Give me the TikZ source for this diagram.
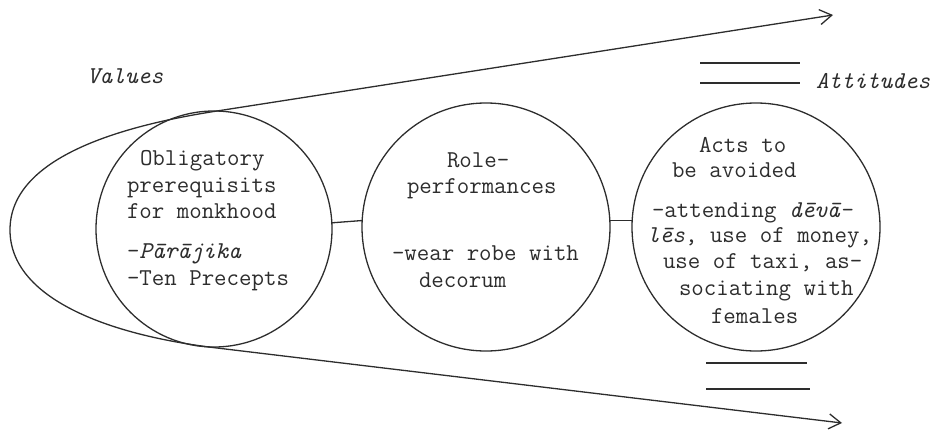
\documentclass[tikz,border=0pt]{standalone}
\usetikzlibrary{arrows.meta}
\definecolor{ink}{RGB}{45,45,45}
\begin{document}
\begin{tikzpicture}[x=1pt,y=-1pt,
  line width=1.3pt, draw=ink,
  circ/.style={circle, draw=ink, line width=1.3pt, inner sep=0pt, outer sep=0pt},
  txt/.style={anchor=base west, inner sep=0pt, outer sep=0pt, text=ink,
     font=\fontsize{24.2pt}{26pt}\selectfont\ttfamily},
  itl/.style={txt, font=\fontsize{24.2pt}{26pt}\selectfont\ttfamily\itshape}]
\useasboundingbox (0,0) rectangle (948,431);

% outer shape with arrows
\coordinate (tt) at (833,15);
\coordinate (tb) at (217,111);
\coordinate (ap) at (10,230);
\coordinate (bb) at (217,348);
\coordinate (bt) at (842,423);
\draw[ink, {Straight Barb[length=12pt,width=15pt]}-{Straight Barb[length=12pt,width=15pt]}]
  (tt) -- (tb) .. controls (107,128) and (10,162) .. (ap)
  .. controls (10,298) and (107,335) .. (bb) -- (bt);

% circles
\node[circ, minimum size=236pt] (c1) at (214,229) {};
\node[circ, minimum size=248pt] (c2) at (486,227) {};
\node[circ, minimum size=248pt] (c3) at (756,227) {};

\draw[ink] (c1.3) -- (c2.177);
\draw[ink] (c2.3) -- (c3.177);

% double lines near Attitudes
\draw[ink] (700,63) -- (800,63);
\draw[ink] (700,83) -- (800,83);
\draw[ink] (706,363) -- (807,363);
\draw[ink] (706,389) -- (810,389);

% labels
\node[itl] (val) at (87,83) {Values};
\node[itl] (att) at (816,88) {Attitudes};

% circle 1 text
\node[txt] (a1) at (140,165) {Obligatory};
\node[txt] (a2) at (127,192) {prerequisits};
\node[txt] (a3) at (127,218) {for monkhood};
\node[txt] (a4) at (127,258) {-\textit{Pārājika}};
\node[txt] (a5) at (127,285) {-Ten Precepts};

% circle 2 text
\node[txt] (b1) at (447,167) {Role-};
\node[txt] (b2) at (407,193) {performances};
\node[txt] (b3) at (392,260) {-wear robe with};
\node[txt] (b4) at (419,287) {decorum};

% circle 3 text
\node[txt] (d1) at (699,152) {Acts to};
\node[txt] (d2) at (672,177) {be avoided};
\node[txt] (d3) at (652,217) {-attending \textit{dēvā}-};
\node[txt] (d4) at (647,242) {\textit{lēs}, use of money,};
\node[txt] (d5) at (663,268) {use of taxi, as-};
\node[txt] (d6) at (679,295) {sociating with};
\node[txt] (d7) at (711,323) {females};
\end{tikzpicture}
\end{document}
